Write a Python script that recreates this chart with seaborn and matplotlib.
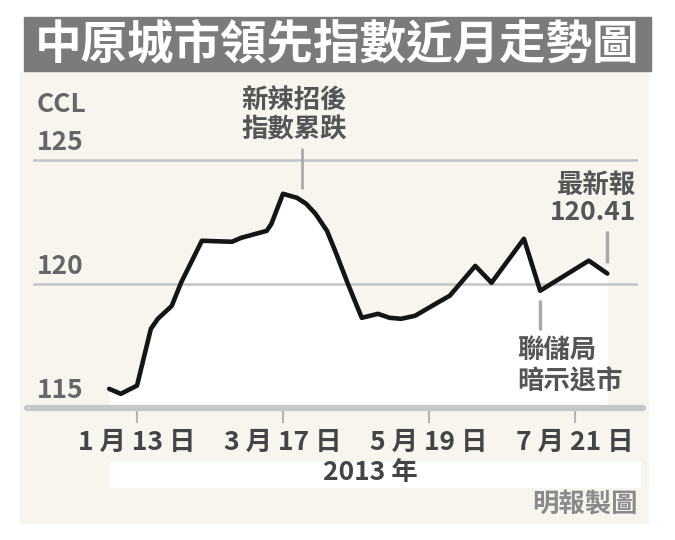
import pandas as pd
import matplotlib.pyplot as plt
import seaborn as sns
from matplotlib.patches import Rectangle

# CCL weekly readings
dates = ['2013-01-01', '2013-01-06', '2013-01-13', '2013-01-19', '2013-01-22', '2013-01-28',
         '2013-02-01', '2013-02-10', '2013-02-23', '2013-02-27', '2013-03-10', '2013-03-12',
         '2013-03-17', '2013-03-23', '2013-03-27', '2013-03-31', '2013-04-05', '2013-04-09',
         '2013-04-14', '2013-04-20', '2013-04-27', '2013-05-02', '2013-05-07', '2013-05-13',
         '2013-05-22', '2013-05-28', '2013-06-08', '2013-06-15', '2013-06-29', '2013-07-06',
         '2013-07-27', '2013-08-04']
ccl = [115.77, 115.57, 115.90, 118.19, 118.59, 119.11,
       120.04, 121.73, 121.69, 121.85, 122.13, 122.41,
       123.62, 123.46, 123.22, 122.82, 122.13, 121.21,
       120.00, 118.63, 118.79, 118.63, 118.59, 118.71,
       119.20, 119.52, 120.72, 120.04, 121.81, 119.72,
       120.93, 120.41]

tick_dates = ['2013-01-13', '2013-03-17', '2013-05-19', '2013-07-21']
tick_labels = ['1 月 13 日', '3 月 17 日', '5 月 19 日', '7 月 21 日']
y_ticks = [115, 120, 125]

df = pd.DataFrame({'date': pd.to_datetime(dates), 'ccl': ccl})

sns.set_theme(style='white')
plt.rcParams['font.family'] = ['Noto Sans CJK TC', 'DejaVu Sans']

W, H = 675, 540
def px(x, y):
    return x / W, 1 - y / H

fig = plt.figure(figsize=(6.75, 5.4), dpi=100)
fig.patch.set_facecolor('white')

# cream panel, title band, white band behind the year
fig.patches.append(Rectangle(px(20, 523), 628 / W, 451 / H, transform=fig.transFigure,
                             color='#f7f5ee', zorder=-2))
fig.patches.append(Rectangle(px(24, 71), 627 / W, 54 / H, transform=fig.transFigure,
                             color='#7b7b7b', zorder=-2))
fig.patches.append(Rectangle(px(110, 487), 530 / W, 25 / H, transform=fig.transFigure,
                             color='white', zorder=-1))

fig.text(*px(337, 44), '中原城市領先指數近月走勢圖', color='white', fontsize=33.5,
         fontweight='bold', ha='center', va='center')

# axes: 115 at y=408px, 125 at y=159px
ax = fig.add_axes([33 / W, 1 - 408 / H, 605 / W, 328 / H])
ax.patch.set_alpha(0)
base = pd.Timestamp('2013-01-13')
ppd = 2.317
ax.set_xlim(base + pd.Timedelta(days=(33 - 137) / ppd), base + pd.Timedelta(days=(638 - 137) / ppd))
ax.set_ylim(115, 128.2)

ax.fill_between(df['date'], df['ccl'], 115, color='white', zorder=1, lw=0)
for v in y_ticks[1:]:
    ax.axhline(v, color='#c4c4c4', lw=1.8, zorder=2)
ax.axhline(115, xmin=-0.01, xmax=1.008, color='#c8c8c8', lw=4.5, zorder=2, clip_on=False)

sns.lineplot(data=df, x='date', y='ccl', ax=ax, color='#151515', linewidth=3.3, zorder=3,
             solid_joinstyle='round', solid_capstyle='round')

sns.despine(ax=ax, left=True, bottom=True)
ax.set_xlabel('')
ax.set_ylabel('')
ax.set_yticks([])
ax.set_xticks(pd.to_datetime(tick_dates))
ax.set_xticklabels(tick_labels, fontsize=19, fontweight='bold', color='#444444')
ax.tick_params(axis='x', bottom=True, direction='out', length=11, width=1.5,
               color='#b5b5b5', pad=4)

# y value labels sit above their gridlines
ytr = ax.get_yaxis_transform()
for v in y_ticks:
    ax.annotate(str(v), xy=(0.006, v), xycoords=ytr, xytext=(0, 12.5), textcoords='offset points',
                ha='left', va='center', fontsize=19, fontweight='bold', color='#666666')
fig.text(*px(37, 105), 'CCL', fontsize=19, fontweight='bold', color='#666666',
         ha='left', va='center')

# annotations
peak = df['ccl'].idxmax()
ax.vlines(df['date'][peak] + pd.Timedelta(days=8), 123.82, 125.47, color='#aaaaaa', lw=2, zorder=2)
fig.text(*px(294, 100), '新辣招後', fontsize=19, fontweight='bold', color='#555555',
         ha='center', va='center')
fig.text(*px(294, 130), '指數累跌', fontsize=19, fontweight='bold', color='#555555',
         ha='center', va='center')

ax.vlines(df['date'].iloc[-1], 120.85, 122.14, color='#aaaaaa', lw=2.5, zorder=2)
fig.text(*px(636, 185), '最新報', fontsize=19, fontweight='bold', color='#555555',
         ha='right', va='center')
fig.text(*px(636, 213), '120.41', fontsize=19, fontweight='bold', color='#555555',
         ha='right', va='center')

trough = df.index[df['date'] == pd.Timestamp('2013-07-06')][0]
ax.vlines(df['date'][trough], 118.12, 119.33, color='#aaaaaa', lw=2.5, zorder=2)
fig.text(*px(517, 350), '聯儲局', fontsize=19, fontweight='bold', color='#555555',
         ha='left', va='center')
fig.text(*px(517, 382), '暗示退市', fontsize=19, fontweight='bold', color='#555555',
         ha='left', va='center')

fig.text(*px(370, 473), '2013 年', fontsize=19, fontweight='bold', color='#444444',
         ha='center', va='center')
fig.text(*px(638, 505), '明報製圖', fontsize=19, fontweight='bold', color='#8a8a8a',
         ha='right', va='center')

fig.savefig('out.png', dpi=100, facecolor='white')
